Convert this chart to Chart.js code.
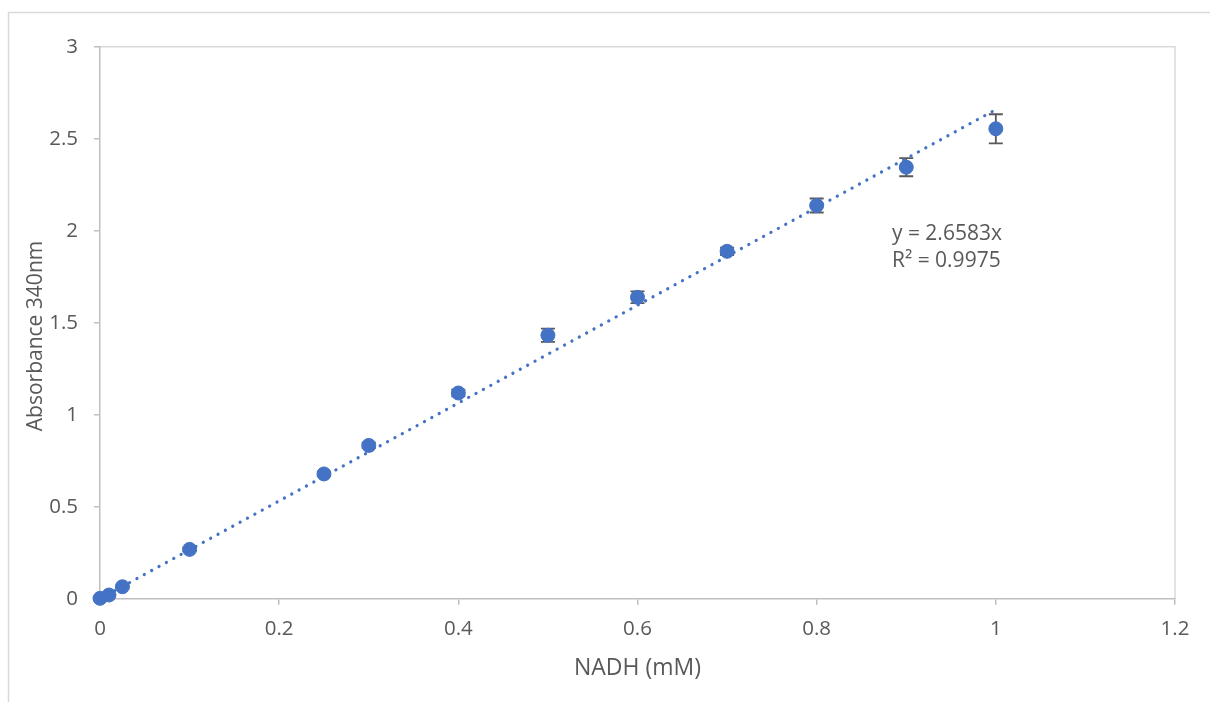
<!DOCTYPE html>
<html>
<head>
<meta charset="utf-8">
<script src="https://cdn.jsdelivr.net/npm/chart.js@4/dist/chart.umd.min.js"></script>
<style>
  html, body { margin: 0; padding: 0; background: #ffffff; overflow: hidden; }
  #wrap { position: relative; width: 1210px; height: 702px; }
</style>
</head>
<body>
<div id="wrap"><canvas id="chart" width="1210" height="702"></canvas></div>
<script>
// NADH standard curve: absorbance at 340 nm against concentration
const concentrations = [0, 0.01, 0.025, 0.1, 0.25, 0.3, 0.4, 0.5, 0.6, 0.7, 0.8, 0.9, 1];
const absorbances    = [0.002, 0.02, 0.065, 0.268, 0.678, 0.833, 1.118, 1.432, 1.638, 1.888, 2.137, 2.345, 2.554];
const absErrors      = [0.003, 0.004, 0.006, 0.008, 0.012, 0.015, 0.018, 0.036, 0.032, 0.02, 0.038, 0.049, 0.079];

// Linear fit through the origin
const fitSlope = 2.6583;
const fitR2 = 0.9975;

const xTickLabels = ['0', '0.2', '0.4', '0.6', '0.8', '1', '1.2'];
const yTickLabels = ['0', '0.5', '1', '1.5', '2', '2.5', '3'];

const xTitle = 'NADH (mM)';
const yTitle = 'Absorbance 340nm';
const eqLines = ['y = ' + fitSlope.toFixed(4) + 'x', 'R\u00B2 = ' + fitR2.toFixed(4)];

const FONT = '"Open Sans", "Liberation Sans", sans-serif';
const TEXT = '#595959';
const AXIS = '#bfbfbf';
const FRAME = '#d9d9d9';
const BLUE = '#4472c4';

const points = concentrations.map((x, i) => ({ x: x, y: absorbances[i] }));
const xMin = Math.min(...concentrations);
const xMax = Math.max(...concentrations);
const fitLine = [{ x: xMin, y: fitSlope * xMin }, { x: xMax, y: fitSlope * xMax }];

const decorations = {
  id: 'decorations',
  beforeDraw(chart) {
    const ctx = chart.ctx;
    const a = chart.chartArea;
    ctx.save();
    // outer chart frame
    ctx.strokeStyle = FRAME;
    ctx.lineWidth = 1.5;
    ctx.beginPath();
    ctx.moveTo(8.5, chart.height + 2);
    ctx.lineTo(8.5, 12.5);
    ctx.lineTo(chart.width + 2, 12.5);
    ctx.stroke();
    // plot-area border (top and right)
    ctx.beginPath();
    ctx.moveTo(a.left, a.top);
    ctx.lineTo(a.right, a.top);
    ctx.lineTo(a.right, a.bottom);
    ctx.stroke();
    ctx.restore();
  },
  beforeDatasetsDraw(chart) {
    // vertical error bars with caps
    const ctx = chart.ctx;
    const xs = chart.scales.x, ys = chart.scales.y;
    ctx.save();
    ctx.strokeStyle = '#595959';
    ctx.lineWidth = 1.8;
    const cap = 7;
    concentrations.forEach((c, i) => {
      const px = xs.getPixelForValue(c);
      const top = ys.getPixelForValue(absorbances[i] + absErrors[i]);
      const bot = ys.getPixelForValue(absorbances[i] - absErrors[i]);
      ctx.beginPath();
      ctx.moveTo(px, top); ctx.lineTo(px, bot);
      ctx.moveTo(px - cap, top); ctx.lineTo(px + cap, top);
      ctx.moveTo(px - cap, bot); ctx.lineTo(px + cap, bot);
      ctx.stroke();
    });
    ctx.restore();
  },
  afterDraw(chart) {
    const ctx = chart.ctx;
    const a = chart.chartArea;
    const xs = chart.scales.x, ys = chart.scales.y;
    ctx.save();
    ctx.fillStyle = TEXT;
    ctx.textAlign = 'center';
    ctx.textBaseline = 'middle';
    // x-axis title
    ctx.font = '23px ' + FONT;
    ctx.fillText(xTitle, (a.left + a.right) / 2, 668);
    // y-axis title
    ctx.font = '21px ' + FONT;
    ctx.save();
    ctx.translate(36, 336);
    ctx.rotate(-Math.PI / 2);
    ctx.fillText(yTitle, 0, 0);
    ctx.restore();
    // trendline equation
    ctx.font = '21px ' + FONT;
    ctx.textAlign = 'left';
    const ex = xs.getPixelForValue(0.884);
    const ey = ys.getPixelForValue(1.982);
    ctx.fillText(eqLines[0], ex, ey);
    ctx.fillText(eqLines[1], ex, ey + 27);
    ctx.restore();
  }
};

new Chart(document.getElementById('chart'), {
  type: 'scatter',
  data: {
    datasets: [
      {
        label: 'Linear fit',
        type: 'line',
        data: fitLine,
        order: 0,
        clip: false,
        borderColor: BLUE,
        borderWidth: 3.2,
        borderDash: [0.1, 8.3],
        borderCapStyle: 'round',
        pointRadius: 0,
        fill: false,
        tension: 0
      },
      {
        label: 'Absorbance',
        data: points,
        order: 1,
        clip: false,
        backgroundColor: BLUE,
        borderColor: BLUE,
        borderWidth: 1,
        pointRadius: 7,
        pointHoverRadius: 7
      }
    ]
  },
  options: {
    responsive: false,
    animation: false,
    events: [],
    layout: { padding: { left: 0, right: 35, top: 46.7, bottom: 0 } },
    plugins: {
      legend: { display: false },
      tooltip: { enabled: false },
      title: { display: false }
    },
    scales: {
      x: {
        type: 'linear',
        min: 0,
        max: 1.2,
        afterFit(scale) { scale.height = 103.3; },
        border: { display: true, color: AXIS, width: 1.5 },
        grid: { drawOnChartArea: false, drawTicks: true, tickLength: 6, color: AXIS, lineWidth: 1.5 },
        ticks: {
          stepSize: 0.2,
          padding: 12,
          color: TEXT,
          font: { family: FONT, size: 20.5 },
          maxRotation: 0,
          callback: (v, i) => xTickLabels[i]
        }
      },
      y: {
        type: 'linear',
        min: 0,
        max: 3,
        afterFit(scale) { scale.width = 100; },
        border: { display: true, color: AXIS, width: 1.5 },
        grid: { drawOnChartArea: false, drawTicks: true, tickLength: 6, color: AXIS, lineWidth: 1.5 },
        ticks: {
          stepSize: 0.5,
          padding: 16,
          color: TEXT,
          font: { family: FONT, size: 20.5 },
          callback: (v, i) => yTickLabels[i]
        }
      }
    }
  },
  plugins: [decorations]
});
</script>
</body>
</html>
